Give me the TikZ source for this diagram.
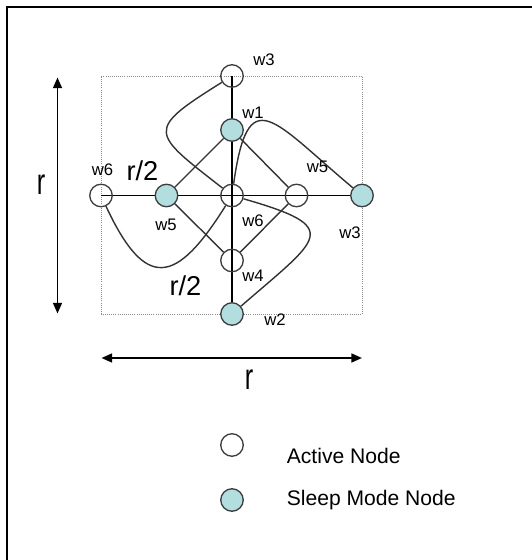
\documentclass[tikz,border=0pt]{standalone}
\usepackage{fontspec}
\setmainfont{Liberation Sans}
\usetikzlibrary{arrows.meta,positioning,backgrounds}
\definecolor{sleepfill}{RGB}{178,222,224}
\definecolor{ringline}{RGB}{60,60,60}
\definecolor{wireline}{RGB}{50,50,50}
\definecolor{boxline}{RGB}{140,140,140}

\begin{document}
\begin{tikzpicture}[
  >={Triangle[length=6pt,width=5pt]},
  active/.style={circle, draw=ringline, line width=0.75pt, minimum size=4.5mm, inner sep=0pt},
  sleep/.style={active, fill=sleepfill},
  wlbl/.style={font=\fontsize{9.5}{10}\selectfont, inner sep=0pt},
  half/.style={font=\fontsize{15.5}{16}\selectfont, inner sep=0pt},
  dist/.style={font=\fontsize{16}{16}\selectfont, inner sep=0pt},
  legend/.style={font=\fontsize{12}{14}\selectfont, anchor=base west, inner sep=0pt},
  wire/.style={draw=wireline, line width=0.8pt},
  spoke/.style={draw=black, line width=0.9pt}]
  \useasboundingbox (-4.64,-7.29) rectangle (5.98,3.91);
  \draw[line width=1.15pt] (-4.5,-7.5) |- (6.2,3.77);
  % grid nodes
  \node[active] (top) at (0,2.39) {};
  \node[sleep] (one) at (0,1.31) {};
  \node[active] (hub) at (0,0) {};
  \node[active] (four) at (0,-1.30) {};
  \node[sleep] (two) at (0,-2.37) {};
  \node[active] (west) at (-2.62,0) {};
  \node[sleep] (westS) at (-1.31,0) {};
  \node[active] (east) at (1.29,0) {};
  \node[sleep] (eastS) at (2.6,0) {};
  \begin{scope}[on background layer]
    \draw[boxline, dash pattern=on 0.5pt off 0.7pt, line width=0.5pt] (west.center |- two.center) rectangle (eastS.center |- top.center);
    \draw[spoke] (west.center) -- (eastS.center);
    \draw[spoke] (top.center) -- (two.center);
  \end{scope}
  \draw[wire] (one) -- (westS); \draw[wire] (one) -- (east);
  \draw[wire] (westS) -- (four); \draw[wire] (east) -- (four);
  % pinwheel
  \draw[wire] (top) to[out=212, in=142, looseness=2.2] (hub);
  \draw[wire] (eastS) to[out=140, in=82, looseness=2.25] (hub);
  \draw[wire] (two) to[out=41, in=-16, looseness=2.5] (hub);
  \draw[wire] (west) to[out=-65, in=238, looseness=2.0] (hub);
  % labels
  \node[wlbl] (lTop) at (0.64,2.72) {w3};
  \node[wlbl] (lOne) at (0.42,1.65) {w1};
  \node[wlbl] (lWest) at (-2.59,0.51) {w6};
  \node[wlbl] (lEast) at (1.71,0.58) {w5};
  \node[wlbl] (lWestS) at (-1.32,-0.59) {w5};
  \node[wlbl] (lHub) at (0.42,-0.50) {w6};
  \node[wlbl] (lEastS) at (2.36,-0.75) {w3};
  \node[wlbl] (lFour) at (0.42,-1.61) {w4};
  \node[wlbl] (lTwo) at (0.86,-2.49) {w2};
  \node[half] (halfA) at (-1.79,0.49) {r/2};
  \node[half] (halfB) at (-0.93,-1.81) {r/2};
  % extent arrows
  \coordinate (vt) at (-3.49,2.36); \coordinate (vb) at (-3.49,-2.36);
  \coordinate (hl) at (-2.61,-3.25); \coordinate (hr) at (2.6,-3.25);
  \draw[spoke, line width=1.1pt, <->] (vt) -- (vb);
  \draw[spoke, line width=1.1pt, <->] (hl) -- (hr);
  \node[dist] (rV) at (-3.82,0.22) {\scalebox{0.9}[1.3]{r}};
  \node[dist] (rH) at (0.34,-3.69) {\scalebox{0.9}[1.3]{r}};
  % legend
  \node[active] (keyA) at (0,-4.99) {};
  \node[sleep] (keyS) at (0,-6.09) {};
  \node[legend] (txtA) at (1.09,-5.35) {Active Node};
  \node[legend] (txtS) at (1.09,-6.19) {Sleep Mode Node};
\end{tikzpicture}
\end{document}
